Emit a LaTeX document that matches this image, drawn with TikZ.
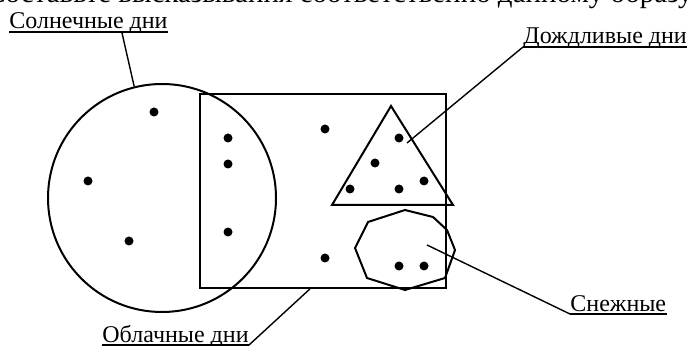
\documentclass[tikz,border=0pt]{standalone}
\usepackage{fontspec}
\setmainfont{Liberation Serif}
\usetikzlibrary{calc}
\tikzset{
  setline/.style={line width=1pt},
  leader/.style={line width=0.7pt},
  lbl/.style={inner sep=0pt, font=\fontsize{12}{14}\selectfont},
}
\begin{document}
\begin{tikzpicture}[x=0.5pt,y=-0.5pt]
  \useasboundingbox (0,0) rectangle (688,346);
  \clip (0,0) rectangle (688,346);
  % task line, cut at the top
  \node[lbl, anchor=base west, font=\fontsize{14.5}{16}\selectfont] (task) at (-14,3) {Составьте высказывания соответственно данному образу};

  % sets
  \node[draw, setline, circle, minimum size=114pt] (sunny) at (162,198) {};
  \node[draw, setline, minimum width=123pt, minimum height=97pt] (cloudy) at (323,191) {};
  \coordinate (rtop) at (391,106);
  \coordinate (rleft) at (332,205);
  \coordinate (rright) at (453,205);
  \draw[setline] (rtop) -- (rleft) -- (rright) -- cycle;
  \draw[setline] (355,248) -- (368,222) -- (405,210) -- (433,217) -- (447,230)
    -- (455,250) -- (445,278) -- (405,290) -- (367,278) -- cycle;

  % days
  \foreach \p in {(154,112),(88,181),(129,241),(228,138),(228,164),(228,232),
                  (325,129),(325,258),(399,138),(375,163),(350,189),(399,189),
                  (424,181),(399,266),(424,266)}
    \fill \p circle[radius=4.5];

  % labels
  \node[lbl, anchor=base east] (sunlbl) at (168,29) {Солнечные дни};
  \node[lbl, anchor=base west] (rainlbl) at (523,44) {Дождливые дни};
  \node[lbl, anchor=base west] (cloudlbl) at (102,342) {Облачные дни};
  \node[lbl, anchor=base west] (snowlbl) at (570,311) {Снежные};
  \foreach \n in {sunlbl,rainlbl,cloudlbl,snowlbl}
    \draw[leader] ([yshift=-1.5pt]\n.base west) -- ([yshift=-1.5pt]\n.base east);

  \coordinate (rainpt) at (407,143);
  \coordinate (snowpt) at (427,245);
  \draw[leader] ([xshift=-23pt,yshift=-2pt]sunlbl.base east) -- (sunny.104);
  \draw[leader] ([yshift=-1.5pt]rainlbl.base west) -- (rainpt);
  \draw[leader] ([yshift=-1.5pt]cloudlbl.base east) -- ($(cloudy.south west)!0.447!(cloudy.south east)$);
  \draw[leader] ([yshift=-1.5pt]snowlbl.base west) -- (snowpt);
\end{tikzpicture}
\end{document}
